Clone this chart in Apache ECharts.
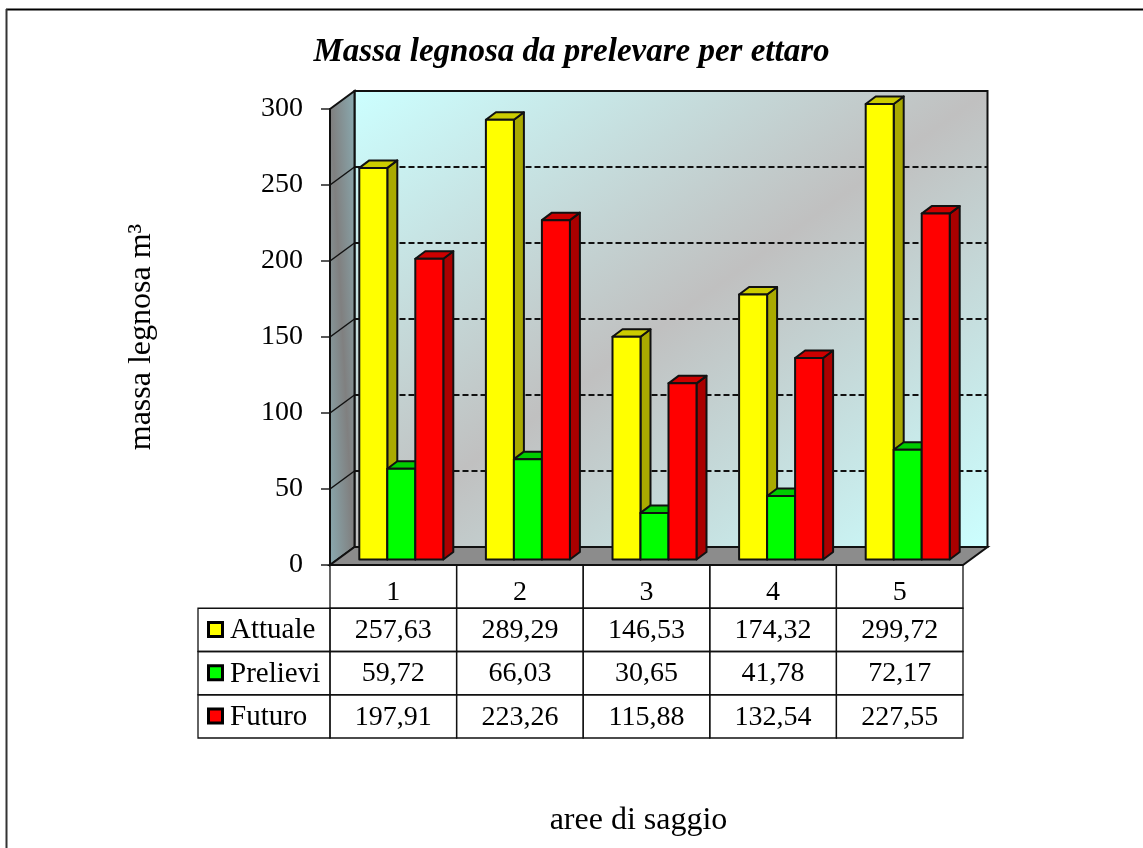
<!DOCTYPE html>
<html>
<head>
<meta charset="utf-8">
<title>Massa legnosa da prelevare per ettaro</title>
<script src="https://cdn.jsdelivr.net/npm/echarts@6/dist/echarts.min.js"></script>
<style>
  html, body { margin: 0; padding: 0; background: #fff; }
  #chart { width: 1143px; height: 848px; }
</style>
</head>
<body>
<div id="chart"></div>
<script>
// chart data
const aree = ['1', '2', '3', '4', '5'];
const attuale = [257.63, 289.29, 146.53, 174.32, 299.72];
const prelievi = [59.72, 66.03, 30.65, 41.78, 72.17];
const futuro = [197.91, 223.26, 115.88, 132.54, 227.55];
const gridValues = [50, 100, 150, 200, 250];
const rowNames = ['', 'Attuale', 'Prelievi', 'Futuro'];

// look of the fake 3D box
const FONT = '"Liberation Serif", "Times New Roman", serif';
const WALL_DX = 24.5, WALL_DY = 18;
const BAR_DX = 10, BAR_DY = 7.5;
const BAR_W = 28, BAR_SHIFT_X = 8, BAR_SHIFT_Y = 5.5;
const HEADER_W = 132;
const palette = {
    Attuale: { front: '#ffff00', top: '#cccc00', side: '#aaaa00' },
    Prelievi: { front: '#00ff00', top: '#00cc00', side: '#00aa00' },
    Futuro: { front: '#ff0000', top: '#cc0000', side: '#aa0000' }
};

// gradient with a band of the middle colour along one diagonal of the box
const diagGradient = (x, y, w, h, rising, outer, middle) => {
    const len = Math.sqrt(w * w + h * h);
    const t = w * h / len;
    const nx = h / len * t, ny = (rising ? w : -w) / len * t;
    const cx = x + w / 2, cy = y + h / 2;
    return new echarts.graphic.LinearGradient(cx - nx, cy - ny, cx + nx, cy + ny, [
        { offset: 0, color: outer },
        { offset: 0.5, color: middle },
        { offset: 1, color: outer }
    ], true);
};

// back wall, side wall and floor
const renderWalls = (params) => {
    const c = params.coordSys;
    const left = c.x, top = c.y, right = c.x + c.width, bottom = c.y + c.height;
    const stroke = { stroke: '#111', lineWidth: 2 };
    return {
        type: 'group',
        children: [
            {
                type: 'polygon',
                shape: { points: [[left + WALL_DX, top - WALL_DY], [right + WALL_DX, top - WALL_DY], [right + WALL_DX, bottom - WALL_DY], [left + WALL_DX, bottom - WALL_DY]] },
                style: Object.assign({ fill: diagGradient(left + WALL_DX, top - WALL_DY, c.width, c.height, true, '#ccffff', '#c0c0c0') }, stroke)
            },
            {
                type: 'polygon',
                shape: { points: [[left, top], [left + WALL_DX, top - WALL_DY], [left + WALL_DX, bottom - WALL_DY], [left, bottom]] },
                style: Object.assign({ fill: diagGradient(left, top - WALL_DY, WALL_DX, c.height + WALL_DY, false, '#8aaab0', '#808080') }, stroke)
            },
            {
                type: 'polygon',
                shape: { points: [[left, bottom], [right, bottom], [right + WALL_DX, bottom - WALL_DY], [left + WALL_DX, bottom - WALL_DY]] },
                style: Object.assign({ fill: '#8c8c8c' }, stroke)
            }
        ]
    };
};

// dashed line on the back wall plus its diagonal on the side wall
const renderGridLine = (params, api) => {
    const c = params.coordSys;
    const y = api.coord([0, api.value(0)])[1];
    return {
        type: 'group',
        children: [
            {
                type: 'line',
                shape: { x1: c.x, y1: y, x2: c.x + WALL_DX, y2: y - WALL_DY },
                style: { stroke: '#111', lineWidth: 1.5 }
            },
            {
                type: 'line',
                shape: { x1: c.x + WALL_DX, y1: y - WALL_DY, x2: c.x + c.width + WALL_DX, y2: y - WALL_DY },
                style: { stroke: '#111', lineWidth: 2, lineDash: [6, 3] }
            }
        ]
    };
};

// one 3D bar: side, top, then front
const renderBar = (slot, colors) => (params, api) => {
    const p = api.coord([api.value(0), api.value(1)]);
    const base = api.coord([api.value(0), 0]);
    const x0 = p[0] + BAR_SHIFT_X + (slot - 1.5) * BAR_W;
    const x1 = x0 + BAR_W;
    const yTop = p[1] - BAR_SHIFT_Y;
    const yBase = base[1] - BAR_SHIFT_Y;
    const edge = { stroke: '#111', lineWidth: 2, lineJoin: 'round' };
    return {
        type: 'group',
        children: [
            {
                type: 'polygon',
                shape: { points: [[x1, yTop], [x1 + BAR_DX, yTop - BAR_DY], [x1 + BAR_DX, yBase - BAR_DY], [x1, yBase]] },
                style: Object.assign({ fill: colors.side }, edge)
            },
            {
                type: 'polygon',
                shape: { points: [[x0, yTop], [x0 + BAR_DX, yTop - BAR_DY], [x1 + BAR_DX, yTop - BAR_DY], [x1, yTop]] },
                style: Object.assign({ fill: colors.top }, edge)
            },
            {
                type: 'rect',
                shape: { x: x0, y: yTop, width: BAR_W, height: yBase - yTop },
                style: Object.assign({ fill: colors.front }, edge)
            }
        ]
    };
};

// data table under the chart, cells come from the same arrays as the bars
const formatValue = (v) => v.toFixed(2).replace('.', ',');
const tableRows = [null, attuale, prelievi, futuro];
const tableCells = [];
tableRows.forEach((row, r) => {
    if (row) row.forEach((v, i) => tableCells.push([i, r, formatValue(v)]));
});

const cellText = (text, x, y, align, size) => ({
    type: 'text',
    style: { text: text, x: x, y: y, align: align, verticalAlign: 'middle', font: size + 'px ' + FONT, fill: '#000' }
});

const cellLines = { fill: 'none', stroke: '#111', lineWidth: 1.3 };

const renderCell = (params, api) => {
    const size = api.size([1, 1]);
    const p = api.coord([api.value(0), api.value(1)]);
    return {
        type: 'group',
        children: [
            {
                type: 'rect',
                shape: { x: p[0] - size[0] / 2, y: p[1] - size[1] / 2, width: size[0], height: size[1] },
                style: cellLines
            },
            cellText(tableCells[params.dataIndex][2], p[0], p[1] + 1, 'center', 28)
        ]
    };
};

const renderHeaderCell = (params, api) => {
    const size = api.size([1, 1]);
    const r = api.value(0);
    const p = api.coord([0, r]);
    const name = rowNames[r];
    const left = p[0] - size[0] / 2 - HEADER_W;
    return {
        type: 'group',
        children: [
            {
                type: 'rect',
                shape: { x: left, y: p[1] - size[1] / 2, width: HEADER_W, height: size[1] },
                style: cellLines
            },
            {
                type: 'rect',
                shape: { x: left + 10.5, y: p[1] - 7.5, width: 14, height: 14 },
                style: { fill: palette[name].front, stroke: '#000', lineWidth: 3 }
            },
            cellText(name, left + 32, p[1] + 1, 'left', 29)
        ]
    };
};

const renderTopCell = (params, api) => {
    const size = api.size([1, 1]);
    const p = api.coord([api.value(0), 0]);
    return {
        type: 'rect',
        shape: { x: p[0] - size[0] / 2, y: p[1] - size[1] / 2, width: size[0], height: size[1] },
        style: cellLines
    };
};

const barSeries = (name, values, slot) => ({
    name: name,
    type: 'custom',
    renderItem: renderBar(slot, palette[name]),
    data: values.map((v, i) => [i, v]),
    encode: { x: 0, y: 1 },
    silent: true
});

const chart = echarts.init(document.getElementById('chart'), null, { renderer: 'canvas' });

const option = {
    animation: false,
    backgroundColor: '#fff',
    title: {
        text: 'Massa legnosa da prelevare per ettaro',
        left: 566.5,
        top: 31,
        textAlign: 'center',
        textStyle: { fontFamily: FONT, fontSize: 33, fontStyle: 'italic', fontWeight: 'bold', color: '#000' }
    },
    grid: [
        { left: 330, top: 109, width: 633, height: 456, outerBoundsMode: 'none' },
        { left: 330, top: 565, width: 633, height: 173, outerBoundsMode: 'none' }
    ],
    xAxis: [
        {
            type: 'category',
            data: aree,
            name: 'aree di saggio',
            nameLocation: 'middle',
            nameGap: 240,
            nameTextStyle: { fontFamily: FONT, fontSize: 32, color: '#000', padding: [0, 16, 0, 0] },
            axisLine: { show: false },
            axisTick: { show: false },
            axisLabel: { fontFamily: FONT, fontSize: 28, color: '#000', margin: 14, interval: 0 }
        },
        {
            type: 'category',
            gridIndex: 1,
            data: aree,
            axisLine: { show: false },
            axisTick: { show: false },
            axisLabel: { show: false }
        }
    ],
    yAxis: [
        {
            type: 'value',
            min: 0,
            max: 300,
            interval: 50,
            name: 'massa legnosa m³',
            nameLocation: 'middle',
            nameGap: 172,
            nameRotate: 90,
            nameTextStyle: { fontFamily: FONT, fontSize: 32, color: '#000' },
            axisLine: { show: true, lineStyle: { color: '#222', width: 1.5 } },
            axisTick: { show: true, length: 9, lineStyle: { color: '#222', width: 1.5 } },
            axisLabel: { fontFamily: FONT, fontSize: 28, color: '#000', margin: 27, padding: [2, 0, 0, 0] },
            splitLine: { show: false }
        },
        {
            type: 'category',
            gridIndex: 1,
            inverse: true,
            data: rowNames,
            axisLine: { show: false },
            axisTick: { show: false },
            axisLabel: { show: false }
        }
    ],
    series: [
        { type: 'custom', renderItem: renderWalls, data: [[0, 0]], silent: true },
        { type: 'custom', renderItem: renderGridLine, data: gridValues.map((v) => [v]), encode: { y: 0 }, silent: true },
        barSeries('Attuale', attuale, 0),
        barSeries('Prelievi', prelievi, 1),
        barSeries('Futuro', futuro, 2),
        {
            type: 'custom',
            xAxisIndex: 1,
            yAxisIndex: 1,
            renderItem: renderTopCell,
            data: aree.map((a, i) => [i]),
            encode: { x: 0 },
            silent: true
        },
        {
            type: 'custom',
            xAxisIndex: 1,
            yAxisIndex: 1,
            renderItem: renderCell,
            data: tableCells.map((c) => [c[0], c[1]]),
            encode: { x: 0, y: 1 },
            silent: true
        },
        {
            type: 'custom',
            xAxisIndex: 1,
            yAxisIndex: 1,
            renderItem: renderHeaderCell,
            data: [[1], [2], [3]],
            encode: { y: 0 },
            silent: true
        }
    ],
    graphic: [
        // page frame, only top and left sides are visible in the original
        { type: 'line', shape: { x1: 6, y1: 9.5, x2: 1143, y2: 9.5 }, style: { stroke: '#000', lineWidth: 2 } },
        { type: 'line', shape: { x1: 6.5, y1: 9, x2: 6.5, y2: 848 }, style: { stroke: '#333', lineWidth: 2 } }
    ]
};

chart.setOption(option);
</script>
</body>
</html>
